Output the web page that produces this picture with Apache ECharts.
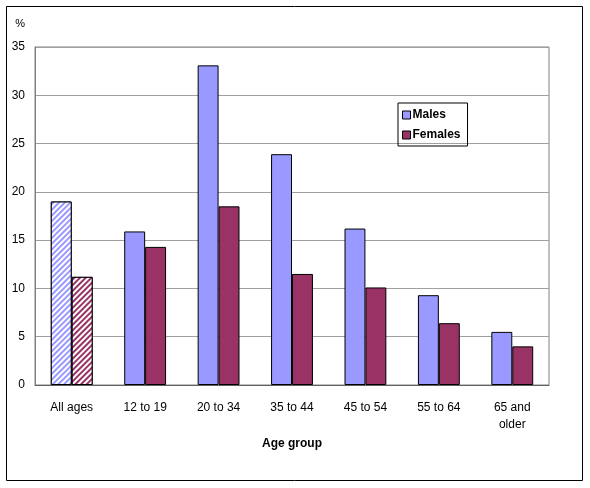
<!DOCTYPE html>
<html>
<head>
<meta charset="utf-8">
<script src="https://cdn.jsdelivr.net/npm/echarts@6/dist/echarts.min.js"></script>
<style>
  html, body { margin: 0; padding: 0; background: #fff; }
  #chart { width: 590px; height: 488px; }
</style>
</head>
<body>
<div id="chart"></div>
<script>
var categories = ['All ages', '12 to 19', '20 to 34', '35 to 44', '45 to 54', '55 to 64', '65 and\nolder'];
var males = [19.0, 15.9, 33.1, 23.9, 16.2, 9.3, 5.5];
var females = [11.2, 14.3, 18.5, 11.5, 10.1, 6.4, 4.0];
var yTicks = [0, 5, 10, 15, 20, 25, 30, 35];

function hatched(values, color) {
    // first bar (all ages) is drawn with diagonal hatching
    return values.map(function (v, i) {
        if (i > 0) return v;
        return {
            value: v,
            itemStyle: {
                color: '#fff',
                decal: {
                    symbol: 'rect',
                    color: color,
                    backgroundColor: '#fff',
                    dashArrayX: [1, 0],
                    dashArrayY: [1.5, 1.5],
                    rotation: -Math.PI / 4
                }
            }
        };
    });
}

var myChart = echarts.init(document.getElementById('chart'));
var option = {
    animation: false,
    textStyle: { fontFamily: 'Liberation Sans, Arial, sans-serif' },
    graphic: [{
        type: 'rect',
        shape: { x: 6.5, y: 6.5, width: 576, height: 474 },
        style: { fill: null, stroke: '#000', lineWidth: 1 }
    }],
    grid: {
        left: 35, top: 47, right: 41, bottom: 103,
        show: true, borderColor: '#808080', borderWidth: 1
    },
    legend: {
        orient: 'vertical',
        left: 398, top: 103,
        itemWidth: 8, itemHeight: 8, itemGap: 8,
        padding: [6, 7, 5, 4],
        borderColor: '#000', borderWidth: 1,
        icon: 'rect',
        itemStyle: { borderColor: '#000', borderWidth: 1 },
        textStyle: { fontSize: 12, fontWeight: 'bold', color: '#000', padding: [0, 0, 0, -3] },
        data: ['Males', 'Females']
    },
    xAxis: {
        type: 'category',
        data: categories,
        name: 'Age group',
        nameLocation: 'middle',
        nameGap: 52,
        nameTextStyle: { fontSize: 12, fontWeight: 'bold', color: '#000' },
        axisLine: { lineStyle: { color: '#606060' } },
        axisTick: { show: false },
        axisLabel: { color: '#000', fontSize: 12, margin: 14, lineHeight: 17, interval: 0 }
    },
    yAxis: {
        type: 'value',
        min: yTicks[0],
        max: yTicks[yTicks.length - 1],
        interval: 5,
        name: '%',
        nameLocation: 'end',
        nameGap: 18,
        nameTextStyle: { fontSize: 11, color: '#000', align: 'right', padding: [0, 10, 0, 0] },
        axisLine: { show: true, lineStyle: { color: '#808080' } },
        axisTick: { show: false },
        splitLine: { lineStyle: { color: '#a0a0a0' } },
        axisLabel: { color: '#000', fontSize: 12, margin: 10 }
    },
    series: [{
        name: 'Males',
        type: 'bar',
        barGap: 0,
        barCategoryGap: '43%',
        itemStyle: { color: '#9999FF', borderColor: '#000', borderWidth: 1 },
        data: hatched(males, '#9999FF')
    }, {
        name: 'Females',
        type: 'bar',
        itemStyle: { color: '#993366', borderColor: '#000', borderWidth: 1 },
        data: hatched(females, '#993366')
    }]
};
myChart.setOption(option);
</script>
</body>
</html>
